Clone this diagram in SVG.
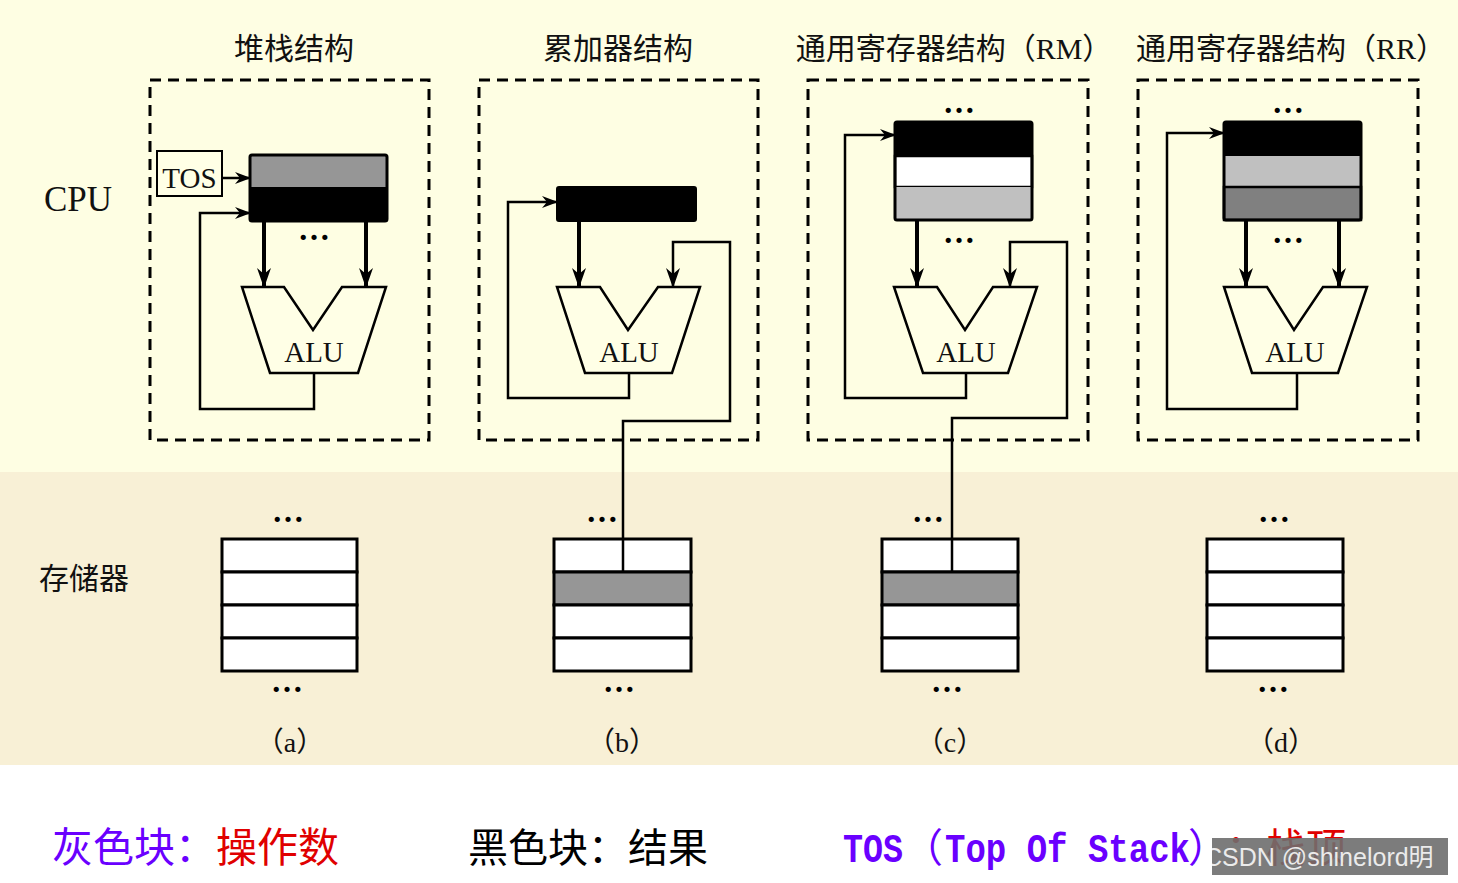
<svg xmlns="http://www.w3.org/2000/svg" width="1458" height="883" viewBox="0 0 1458 883">
<style>
.dash{fill:none;stroke:#000;stroke-width:3;stroke-dasharray:11,7}
.reg{fill:none;stroke:#000;stroke-width:3}
.alu{fill:#FFFFE6;stroke:#000;stroke-width:2.5;stroke-linejoin:miter}
.mem{fill:#fff;stroke:#000;stroke-width:3}
.ln{fill:none;stroke:#000;stroke-width:2.5}
.thk{fill:none;stroke:#000;stroke-width:4}
.ser{font-family:"Liberation Serif","Noto Sans CJK SC",serif;fill:#111}
.cjk{font-family:"Liberation Serif","Noto Sans CJK SC",sans-serif;fill:#111}
.dots{font-family:"Liberation Serif",serif;font-weight:bold;font-size:32px;text-anchor:middle;fill:#000}
.t{font-size:30px;text-anchor:middle}
.alut{font-size:29px;text-anchor:middle}
.lab{font-size:28px;text-anchor:middle}
.mono{font-family:"Liberation Mono",monospace;font-weight:bold;font-size:40px;fill:#6A00FF}
.cj40{font-family:"Noto Sans CJK SC",sans-serif;font-size:40px}
</style>
<defs>
<marker id="ah" viewBox="0 0 16 12" refX="15" refY="6" markerWidth="16" markerHeight="12" markerUnits="userSpaceOnUse" orient="auto">
<path d="M0,0 L16,6 L0,12 L5,6 z" fill="#000"/>
</marker>
<marker id="ahb" viewBox="0 0 20 14" refX="19" refY="7" markerWidth="20" markerHeight="14" markerUnits="userSpaceOnUse" orient="auto">
<path d="M0,0 L20,7 L0,14 L6,7 z" fill="#000"/>
</marker>
</defs>
<g id="background">
<rect x="0" y="0" width="1458" height="472" fill="#FEFEE3"/>
<rect x="0" y="472" width="1458" height="293" fill="#F8F0D6"/>
<rect x="0" y="765" width="1458" height="118" fill="#FFFFFF"/>
</g>
<g id="titles">
<text class="cjk t" x="294" y="59">堆栈结构</text>
<text class="cjk t" x="618" y="59">累加器结构</text>
<text class="cjk t" x="954" y="59">通用寄存器结构（RM）</text>
<text class="cjk t" x="1291" y="59">通用寄存器结构（RR）</text>
<text class="ser" x="44" y="211" font-size="35">CPU</text>
<text class="cjk" x="39" y="589" font-size="30">存储器</text>
</g>
<g id="panel-a">
<rect class="dash" x="150" y="80" width="279" height="360"/>
<g id="tos-box">
<rect x="157" y="151" width="65" height="45" fill="#FFFFE6" stroke="#000" stroke-width="2"/>
<text class="ser" x="189.5" y="188" font-size="29" text-anchor="middle">TOS</text>
</g>
<g id="reg-a">
<rect x="250" y="155" width="137" height="32" fill="#969696"/>
<rect x="250" y="187" width="137" height="34" fill="#000"/>
<rect class="reg" x="250" y="155" width="137" height="66" rx="2"/>
</g>
<text class="dots" x="314" y="240">…</text>
<g id="alu-a">
<polygon class="alu" points="242,287 284,287 313,330 342,287 386,287 358,373 270,373"/>
<text class="ser alut" x="314" y="362">ALU</text>
</g>
<g id="mem-a">
<text class="dots" x="288" y="522">…</text>
<rect class="mem" x="222" y="539" width="135" height="33"/>
<rect class="mem" x="222" y="572" width="135" height="33"/>
<rect class="mem" x="222" y="605" width="135" height="33"/>
<rect class="mem" x="222" y="638" width="135" height="33"/>
<text class="dots" x="287" y="692">…</text>
</g>
<text class="ser lab" x="290" y="752">（a）</text>
</g>
<g id="panel-b">
<rect class="dash" x="479" y="80" width="279" height="360"/>
<g id="reg-b">
<rect x="557" y="187" width="139" height="34" fill="#000" stroke="#000" stroke-width="2" rx="2"/>
</g>
<g id="alu-b">
<polygon class="alu" points="557,287 600,287 628,330 658,287 700,287 672,373 585,373"/>
<text class="ser alut" x="629" y="362">ALU</text>
</g>
<g id="mem-b">
<text class="dots" x="602" y="522">…</text>
<rect class="mem" x="554" y="539" width="137" height="33"/>
<rect class="mem" x="554" y="572" width="137" height="33" style="fill:#969696"/>
<rect class="mem" x="554" y="605" width="137" height="33"/>
<rect class="mem" x="554" y="638" width="137" height="33"/>
<text class="dots" x="619" y="692">…</text>
</g>
<text class="ser lab" x="622" y="752">（b）</text>
</g>
<g id="panel-c">
<rect class="dash" x="808" y="80" width="280" height="360"/>
<text class="dots" x="959" y="113">…</text>
<g id="reg-c">
<rect x="895" y="122" width="137" height="34" fill="#000"/>
<rect x="895" y="156" width="137" height="31" fill="#FFFFFF" stroke="#000" stroke-width="2.5"/>
<rect x="895" y="187" width="137" height="33" fill="#C0C0C0"/>
<rect class="reg" x="895" y="122" width="137" height="98" rx="2"/>
</g>
<text class="dots" x="959" y="243">…</text>
<g id="alu-c">
<polygon class="alu" points="894,287 937,287 965,330 993,287 1037,287 1008,373 923,373"/>
<text class="ser alut" x="966" y="362">ALU</text>
</g>
<g id="mem-c">
<text class="dots" x="928" y="522">…</text>
<rect class="mem" x="882" y="539" width="136" height="33"/>
<rect class="mem" x="882" y="572" width="136" height="33" style="fill:#969696"/>
<rect class="mem" x="882" y="605" width="136" height="33"/>
<rect class="mem" x="882" y="638" width="136" height="33"/>
<text class="dots" x="947" y="692">…</text>
</g>
<text class="ser lab" x="950" y="752">（c）</text>
</g>
<g id="panel-d">
<rect class="dash" x="1138" y="80" width="280" height="360"/>
<text class="dots" x="1288" y="113">…</text>
<g id="reg-d">
<rect x="1224" y="122" width="137" height="34" fill="#000"/>
<rect x="1224" y="156" width="137" height="31" fill="#C0C0C0"/>
<rect x="1224" y="187" width="137" height="33" fill="#808080" stroke="#000" stroke-width="2.5"/>
<rect class="reg" x="1224" y="122" width="137" height="98" rx="2"/>
</g>
<text class="dots" x="1288" y="243">…</text>
<g id="alu-d">
<polygon class="alu" points="1224,287 1267,287 1294,330 1323,287 1367,287 1338,373 1252,373"/>
<text class="ser alut" x="1295" y="362">ALU</text>
</g>
<g id="mem-d">
<text class="dots" x="1274" y="522">…</text>
<rect class="mem" x="1207" y="539" width="136" height="33"/>
<rect class="mem" x="1207" y="572" width="136" height="33"/>
<rect class="mem" x="1207" y="605" width="136" height="33"/>
<rect class="mem" x="1207" y="638" width="136" height="33"/>
<text class="dots" x="1273" y="692">…</text>
</g>
<text class="ser lab" x="1281" y="752">（d）</text>
</g>
<g id="connectors">
<path class="ln" d="M222,178 H250" marker-end="url(#ah)"/>
<path class="ln" d="M314,373 V409 H200 V213 H250" marker-end="url(#ah)"/>
<path class="thk" d="M264,221 V287" marker-end="url(#ahb)"/>
<path class="thk" d="M366,221 V287" marker-end="url(#ahb)"/>
<path class="ln" d="M629,373 V398 H508 V202 H557" marker-end="url(#ah)"/>
<path class="thk" d="M579,221 V287" marker-end="url(#ahb)"/>
<path class="ln" d="M623,572 V421 H730 V242 H673 V287" marker-end="url(#ahb)"/>
<path class="ln" d="M966,373 V398 H845 V135 H895" marker-end="url(#ah)"/>
<path class="thk" d="M917,220 V287" marker-end="url(#ahb)"/>
<path class="ln" d="M952,572 V418 H1067 V242 H1010 V287" marker-end="url(#ahb)"/>
<path class="ln" d="M1297,373 V409 H1167 V133 H1224" marker-end="url(#ah)"/>
<path class="thk" d="M1246,220 V287" marker-end="url(#ahb)"/>
<path class="thk" d="M1339,220 V287" marker-end="url(#ahb)"/>
</g>
<g id="legend">
<text x="52" y="862" font-family="'Noto Sans CJK SC',sans-serif" font-size="41"><tspan fill="#6A00FF">灰色块：</tspan><tspan fill="#E00000">操作数</tspan></text>
<text x="468" y="862" font-family="'Noto Sans CJK SC',sans-serif" font-size="40" fill="#000">黑色块：结果</text>
<text class="mono" x="843" y="862" textLength="60" lengthAdjust="spacingAndGlyphs">TOS</text>
<text class="cj40" x="903" y="862" fill="#6A00FF">（</text>
<text class="mono" x="945" y="862" textLength="245" lengthAdjust="spacingAndGlyphs">Top Of Stack</text>
<text class="cj40" x="1188" y="862" fill="#6A00FF">）</text>
<text class="cj40" x="1226" y="862" fill="#E00000">：栈顶</text>
</g>
<g id="watermark">
<rect x="1212" y="838" width="236" height="37" fill="#6E6E6E" opacity="0.9"/>
<text x="1204" y="866" font-family="'Liberation Sans','Noto Sans CJK SC',sans-serif" font-size="25" fill="#FFFFFF" opacity="0.85">CSDN @shinelord明</text>
</g>
</svg>
